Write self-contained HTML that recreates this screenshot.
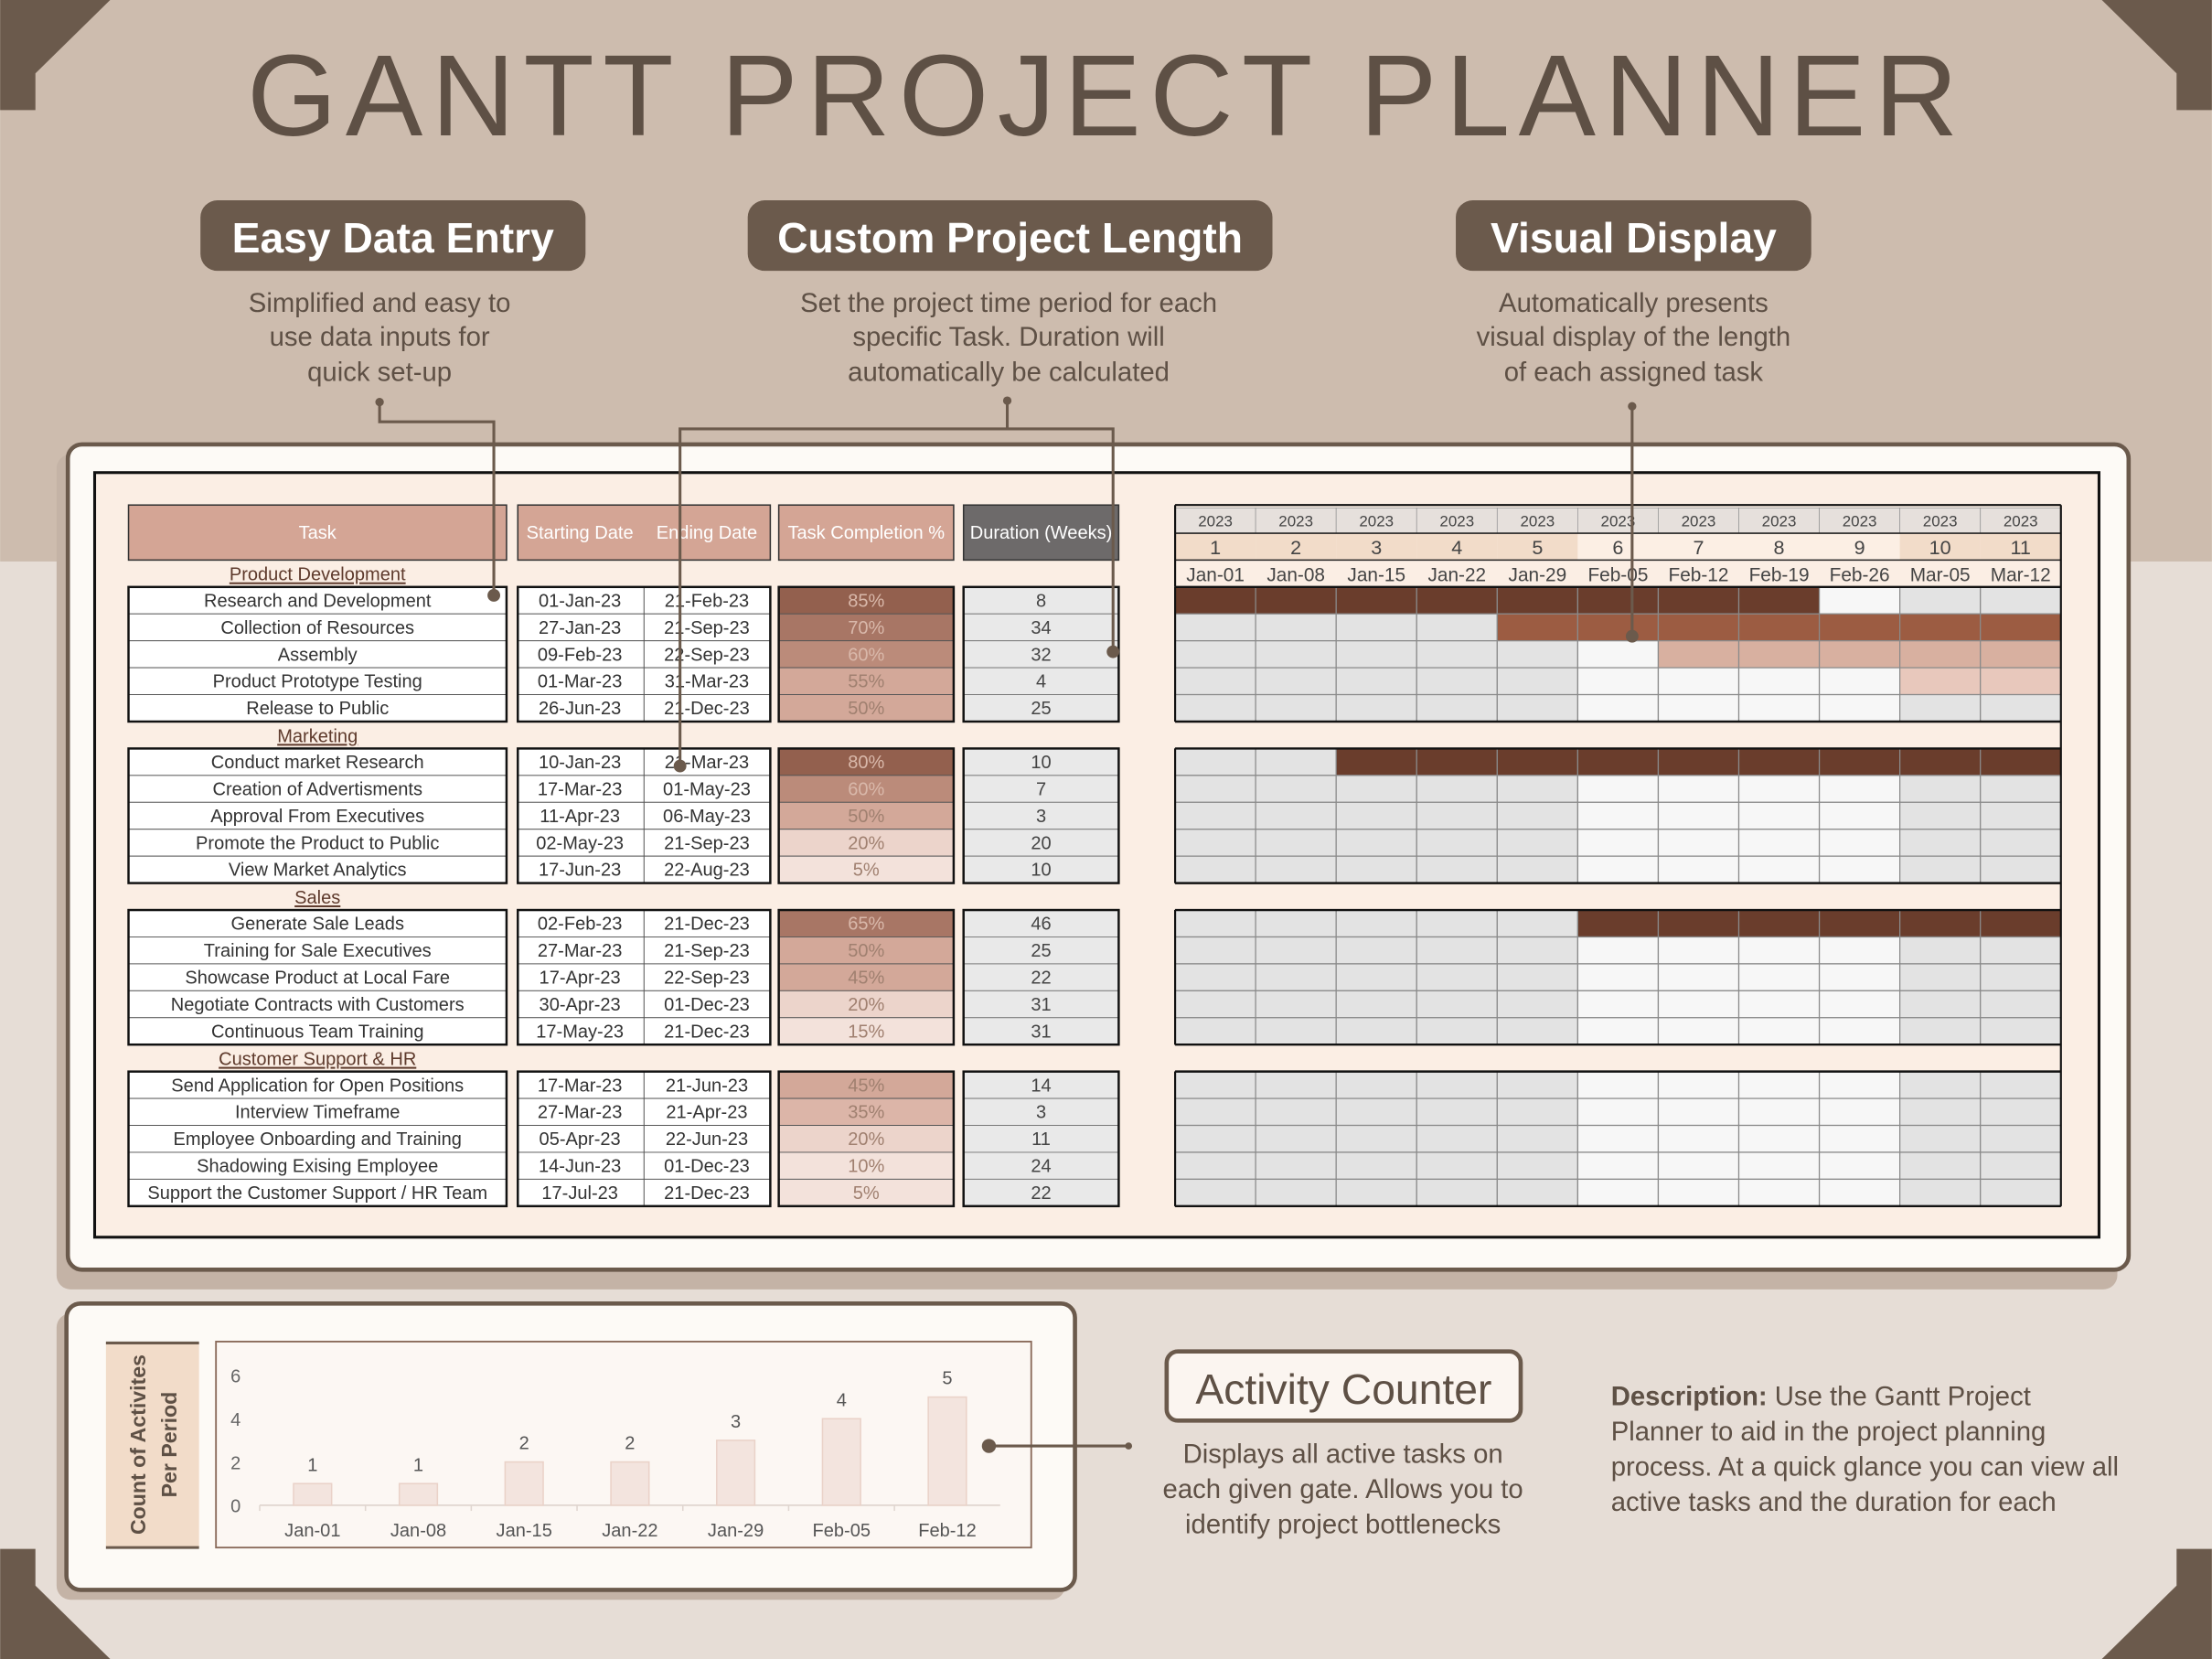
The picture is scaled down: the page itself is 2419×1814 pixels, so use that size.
<!DOCTYPE html>
<html><head><meta charset="utf-8">
<style>
html,body{margin:0;padding:0;background:#e6ddd6;}
svg{display:block;font-family:"Liberation Sans",sans-serif;}
</style></head>
<body>
<svg id="root" width="2419" height="1814" viewBox="0 0 1568 1176" xmlns="http://www.w3.org/2000/svg">
<rect x="0" y="0" width="1568" height="1176" fill="#e6ddd6"/>
<rect x="0" y="0" width="1568" height="398" fill="#cdbcae"/>
<g fill="#6b5a4c">
<polygon points="0,0 78,0 25,52 25,78 0,78"/>
<polygon points="1568,0 1490,0 1543,52 1543,78 1568,78"/>
<polygon points="0,1176 78,1176 25,1124 25,1098 0,1098"/>
<polygon points="1568,1176 1490,1176 1543,1124 1543,1098 1568,1098"/>
</g>
<text x="175" y="96" textLength="1213" lengthAdjust="spacing" font-size="82" fill="#5e5045">GANTT PROJECT PLANNER</text>

<g>
<rect x="142" y="142" width="273" height="50" rx="12" fill="#6b5a4c"/>
<text x="278.5" y="179" text-anchor="middle" font-size="30" font-weight="bold" fill="#fff">Easy Data Entry</text>
<g font-size="19" fill="#5e5045" text-anchor="middle"><text x="269" y="221">Simplified and easy to</text><text x="269" y="245">use data inputs for</text><text x="269" y="270">quick set-up</text></g>
</g>
<g>
<rect x="530" y="142" width="372" height="50" rx="12" fill="#6b5a4c"/>
<text x="716" y="179" text-anchor="middle" font-size="30" font-weight="bold" fill="#fff">Custom Project Length</text>
<g font-size="19" fill="#5e5045" text-anchor="middle"><text x="715" y="221">Set the project time period for each</text><text x="715" y="245">specific Task. Duration will</text><text x="715" y="270">automatically be calculated</text></g>
</g>
<g>
<rect x="1032" y="142" width="252" height="50" rx="12" fill="#6b5a4c"/>
<text x="1158" y="179" text-anchor="middle" font-size="30" font-weight="bold" fill="#fff">Visual Display</text>
<g font-size="19" fill="#5e5045" text-anchor="middle"><text x="1158" y="221">Automatically presents</text><text x="1158" y="245">visual display of the length</text><text x="1158" y="270">of each assigned task</text></g>
</g>

<rect x="40" y="322" width="1461" height="592" rx="10" fill="#c4b3a6"/>
<rect x="48" y="315" width="1461" height="585" rx="10" fill="#fdfaf6" stroke="#6b5a4c" stroke-width="3"/>
<rect x="67" y="335" width="1421" height="542" fill="#fbeee4" stroke="#111" stroke-width="2"/>

<g id="table"></g>
<g id="gantt"></g>

<rect x="40" y="931" width="715" height="203" rx="10" fill="#c4b3a6"/>
<rect x="47" y="924" width="715" height="203" rx="10" fill="#fdfaf6" stroke="#6b5a4c" stroke-width="3"/>
<g>
<rect x="75" y="952" width="66" height="145" fill="#f2dcc9"/>
<line x1="75" y1="952" x2="141" y2="952" stroke="#6b5a4c" stroke-width="2"/>
<line x1="75" y1="1097" x2="141" y2="1097" stroke="#6b5a4c" stroke-width="2"/>
<text transform="translate(103,1024) rotate(-90)" text-anchor="middle" font-size="15" font-weight="bold" fill="#5e5045">Count of Activites</text>
<text transform="translate(125,1024) rotate(-90)" text-anchor="middle" font-size="15" font-weight="bold" fill="#5e5045">Per Period</text>
</g>
<rect x="153" y="951" width="578" height="146" fill="#fcf7f3" stroke="#8a6a5a" stroke-width="1.2"/>
<g id="chart"></g>

<g stroke="#6b5a4c" stroke-width="2" fill="none">
<polyline points="269,285 269,299 350,299 350,422"/>
<polyline points="714,284 714,304"/>
<polyline points="482,543 482,304 789,304 789,462"/>
<polyline points="1157,288 1157,451"/>
<polyline points="701,1025 800,1025"/>
</g>
<g fill="#6b5a4c">
<circle cx="269" cy="285" r="3"/><circle cx="350" cy="422" r="4.5"/><circle cx="714" cy="284" r="3"/>
<circle cx="482" cy="543" r="4.5"/><circle cx="789" cy="462" r="4.5"/><circle cx="1157" cy="288" r="3"/>
<circle cx="1157" cy="451" r="4.5"/><circle cx="701" cy="1025" r="5"/><circle cx="800" cy="1025" r="2.5"/>
</g>

<g>
<rect x="827" y="958" width="251" height="49" rx="8" fill="#fbf5f0" stroke="#6b5a4c" stroke-width="3"/>
<text x="952.5" y="995" text-anchor="middle" font-size="30" fill="#5e5045">Activity Counter</text>
<g font-size="19" fill="#5e5045" text-anchor="middle"><text x="952" y="1037">Displays all active tasks on</text><text x="952" y="1062">each given gate. Allows you to</text><text x="952" y="1087">identify project bottlenecks</text></g>
</g>
<g font-size="19" fill="#5e5045">
<text x="1142" y="996"><tspan font-weight="bold">Description:</tspan> Use the Gantt Project</text>
<text x="1142" y="1021">Planner to aid in the project planning</text>
<text x="1142" y="1046">process. At a quick glance you can view all</text>
<text x="1142" y="1071">active tasks and the duration for each</text>
</g>
</svg>
<script>
const sections=["Product Development","Marketing","Sales","Customer Support & HR"];
const tasks=["Research and Development","Collection of Resources","Assembly","Product Prototype Testing","Release to Public",
"Conduct market Research","Creation of Advertisments","Approval From Executives","Promote the Product to Public","View Market Analytics",
"Generate Sale Leads","Training for Sale Executives","Showcase Product at Local Fare","Negotiate Contracts with Customers","Continuous Team Training",
"Send Application for Open Positions","Interview Timeframe","Employee Onboarding and Training","Shadowing Exising Employee","Support the Customer Support / HR Team"];
const startDates=["01-Jan-23","27-Jan-23","09-Feb-23","01-Mar-23","26-Jun-23","10-Jan-23","17-Mar-23","11-Apr-23","02-May-23","17-Jun-23","02-Feb-23","27-Mar-23","17-Apr-23","30-Apr-23","17-May-23","17-Mar-23","27-Mar-23","05-Apr-23","14-Jun-23","17-Jul-23"];
const endDates=["21-Feb-23","21-Sep-23","22-Sep-23","31-Mar-23","21-Dec-23","21-Mar-23","01-May-23","06-May-23","21-Sep-23","22-Aug-23","21-Dec-23","21-Sep-23","22-Sep-23","01-Dec-23","21-Dec-23","21-Jun-23","21-Apr-23","22-Jun-23","01-Dec-23","21-Dec-23"];
const completion=[85,70,60,55,50,80,60,50,20,5,65,50,45,20,15,45,35,20,10,5];
const durations=[8,34,32,4,25,10,7,3,20,10,46,25,22,31,31,14,3,11,24,22];
const weekYears=["2023","2023","2023","2023","2023","2023","2023","2023","2023","2023","2023"];
const weekNums=["1","2","3","4","5","6","7","8","9","10","11"];
const weekDates=["Jan-01","Jan-08","Jan-15","Jan-22","Jan-29","Feb-05","Feb-12","Feb-19","Feb-26","Mar-05","Mar-12"];
const barStartWeek=[1,5,7,10,0,3,0,0,0,0,6,0,0,0,0,0,0,0,0,0];
const barEndWeek=[8,11,11,11,0,11,0,0,0,0,11,0,0,0,0,0,0,0,0,0];
const barShade=[1,2,3,4,0,1,0,0,0,0,1,0,0,0,0,0,0,0,0,0];
const chartCategories=["Jan-01","Jan-08","Jan-15","Jan-22","Jan-29","Feb-05","Feb-12"];
const chartValues=[1,1,2,2,3,4,5];
const chartTicks=[0,2,4,6];

const NS="http://www.w3.org/2000/svg";
function mk(parent,tag,attrs,txt){const e=document.createElementNS(NS,tag);for(const k in attrs)e.setAttribute(k,attrs[k]);if(txt!==undefined)e.textContent=txt;parent.appendChild(e);return e;}
const RH=19.08, SEC=114.5, TOP=397;
function rowY(i){const s=Math.floor(i/5),r=i%5;return TOP+s*SEC+RH+r*RH;}
function compFill(p){if(p>=80)return"#93604e";if(p>=65)return"#a87665";if(p>=60)return"#bb8b7a";if(p>=45)return"#d3a899";if(p>=35)return"#dcb5a8";if(p>=20)return"#ecd4cb";return"#f3e2db";}
const shadeColors=["","#6a3d2c","#9c5c42","#d8b0a0","#e8c8bc"];

const T=document.getElementById('table');
let h=mk(T,'rect',{x:91,y:358,width:268,height:39,fill:"#d4a595",stroke:"#333","stroke-width":1});

mk(T,'text',{x:225,y:382,"text-anchor":"middle","font-size":13,fill:"#fff"},"Task");
h=mk(T,'rect',{x:367,y:358,width:179,height:39,fill:"#d4a595",stroke:"#333","stroke-width":1});

mk(T,'text',{x:411,y:382,"text-anchor":"middle","font-size":13,fill:"#fff"},"Starting Date");
mk(T,'text',{x:501,y:382,"text-anchor":"middle","font-size":13,fill:"#fff"},"Ending Date");
h=mk(T,'rect',{x:552,y:358,width:124,height:39,fill:"#d4a595",stroke:"#333","stroke-width":1});

mk(T,'text',{x:614,y:382,"text-anchor":"middle","font-size":13,fill:"#fff"},"Task Completion %");
h=mk(T,'rect',{x:683,y:358,width:110,height:39,fill:"#6d6a6a",stroke:"#333","stroke-width":1});

mk(T,'text',{x:738,y:382,"text-anchor":"middle","font-size":13,fill:"#fff"},"Duration (Weeks)");

sections.forEach((s,k)=>{
  const y=TOP+k*SEC;
  const t=mk(T,'text',{x:225,y:y+14.5,"text-anchor":"middle","font-size":13,fill:"#5e3a2c","text-decoration":"underline"},s);
  
});
tasks.forEach((t,i)=>{
  const y=rowY(i);
  const g=mk(T,'g',{});
  
  
  mk(g,'rect',{x:91,y:y,width:268,height:RH,fill:"#fff",stroke:"#555","stroke-width":0.6});
  mk(g,'text',{x:225,y:y+14,"text-anchor":"middle","font-size":13,fill:"#333"},t);
  mk(g,'rect',{x:367,y:y,width:89.5,height:RH,fill:"#fff",stroke:"#555","stroke-width":0.6});
  mk(g,'rect',{x:456.5,y:y,width:89.5,height:RH,fill:"#fff",stroke:"#555","stroke-width":0.6});
  mk(g,'text',{x:411,y:y+14,"text-anchor":"middle","font-size":13,fill:"#333"},startDates[i]);
  mk(g,'text',{x:501,y:y+14,"text-anchor":"middle","font-size":13,fill:"#333"},endDates[i]);
  mk(g,'rect',{x:552,y:y,width:124,height:RH,fill:compFill(completion[i]),stroke:"#555","stroke-width":0.6});
  mk(g,'text',{x:614,y:y+14,"text-anchor":"middle","font-size":13,fill:completion[i]>=60?"#d9b8aa":"#a08070"},completion[i]+"%");
  mk(g,'rect',{x:683,y:y,width:110,height:RH,fill:"#e9e9e9",stroke:"#777","stroke-width":0.6});
  mk(g,'text',{x:738,y:y+14,"text-anchor":"middle","font-size":13,fill:"#444"},durations[i]);
});
sections.forEach((s,k)=>{
  const gy=TOP+k*SEC+RH;
  [[91,268],[367,179],[552,124],[683,110]].forEach(c=>{
    const r=mk(T,'rect',{x:c[0],y:gy,width:c[1],height:RH*5,fill:"none",stroke:"#111","stroke-width":1.6});
    
  });
});

const G=document.getElementById('gantt');
const GX=833,CW=57.09;
function colX(w){return GX+(w-1)*CW;}
function isMid(w){return w>=6&&w<=9;}
mk(G,'rect',{x:GX,y:358,width:11*CW,height:497,fill:"#fbeee4"});
weekNums.forEach((n,j)=>{
  const w=j+1,x=colX(w);
  let c=mk(G,'rect',{x:x,y:360,width:CW,height:18,fill:"#e6e0dc",stroke:"#999","stroke-width":0.5});
  
  mk(G,'text',{x:x+CW/2,y:373,"text-anchor":"middle","font-size":11,fill:"#444"},weekYears[j]);
  c=mk(G,'rect',{x:x,y:378,width:CW,height:19,fill:isMid(w)?"#fcefe4":"#f2dcc9"});
  
  mk(G,'text',{x:x+CW/2,y:393,"text-anchor":"middle","font-size":14,fill:"#444"},n);
  c=mk(G,'rect',{x:x,y:397,width:CW,height:19,fill:"#fbeee4"});
  
  mk(G,'text',{x:x+CW/2,y:412,"text-anchor":"middle","font-size":13.5,fill:"#444"},weekDates[j]);
});
mk(G,'line',{x1:GX,y1:378,x2:GX+11*CW,y2:378,stroke:"#222","stroke-width":1});
mk(G,'line',{x1:GX,y1:397,x2:GX+11*CW,y2:397,stroke:"#222","stroke-width":1});
tasks.forEach((t,i)=>{
  const y=rowY(i);
  for(let w=1;w<=11;w++){
    const x=colX(w);
    let fill=isMid(w)?"#f7f7f7":"#e3e3e3";
    if(barStartWeek[i]>0&&w>=barStartWeek[i]&&w<=barEndWeek[i]) fill=shadeColors[barShade[i]];
    const c=mk(G,'rect',{x:x,y:y,width:CW,height:RH,fill:fill,stroke:"#8a8a8a","stroke-width":0.8});
    
    
  }
});
sections.forEach((s,k)=>{
  const gy=TOP+k*SEC+RH;
  mk(G,'line',{x1:GX,y1:gy,x2:GX+11*CW,y2:gy,stroke:"#111","stroke-width":1.6});
  mk(G,'line',{x1:GX,y1:gy+RH*5,x2:GX+11*CW,y2:gy+RH*5,stroke:"#111","stroke-width":1.6});
});
mk(G,'line',{x1:GX+11*CW,y1:358,x2:GX+11*CW,y2:855,stroke:"#111","stroke-width":1.4});
mk(G,'line',{x1:GX,y1:358,x2:GX+11*CW,y2:358,stroke:"#111","stroke-width":1.4});
mk(G,'line',{x1:GX,y1:358,x2:GX,y2:416,stroke:"#111","stroke-width":1.4});
sections.forEach((s,k)=>{
  const gy=TOP+k*SEC+RH;
  mk(G,'line',{x1:GX,y1:gy,x2:GX,y2:gy+RH*5,stroke:"#111","stroke-width":1.4});
});

const C=document.getElementById('chart');
const PX0=184,PX1=709,PY0=1067,PY1=975,YMAX=6;
function xBand(i){return PX0+(PX1-PX0)/chartCategories.length*(i+0.5);}
function yS(v){return PY0-(PY0-PY1)*v/YMAX;}
chartTicks.forEach(v=>{
  const t=mk(C,'text',{x:167,y:yS(v)+5,"text-anchor":"middle","font-size":13,fill:"#666"},v);
  
});
mk(C,'line',{x1:PX0,y1:PY0,x2:PX1,y2:PY0,stroke:"#e0d6d0","stroke-width":1.2});
chartCategories.forEach((c,i)=>{
  const xc=xBand(i),v=chartValues[i],bw=27;
  const b=mk(C,'rect',{x:xc-bw/2,y:yS(v),width:bw,height:PY0-yS(v),fill:"#f3e4de",stroke:"#ead2c8","stroke-width":1});
  
  
  const l=mk(C,'text',{x:xc,y:yS(v)-9,"text-anchor":"middle","font-size":13,fill:"#555"},v);
  
  const xl=mk(C,'text',{x:xc,y:1089,"text-anchor":"middle","font-size":13,fill:"#555"},c);
  
  mk(C,'line',{x1:PX0+(PX1-PX0)/7*i,y1:PY0,x2:PX0+(PX1-PX0)/7*i,y2:PY0+4,stroke:"#e0d6d0"});
});
</script>
</body></html>
